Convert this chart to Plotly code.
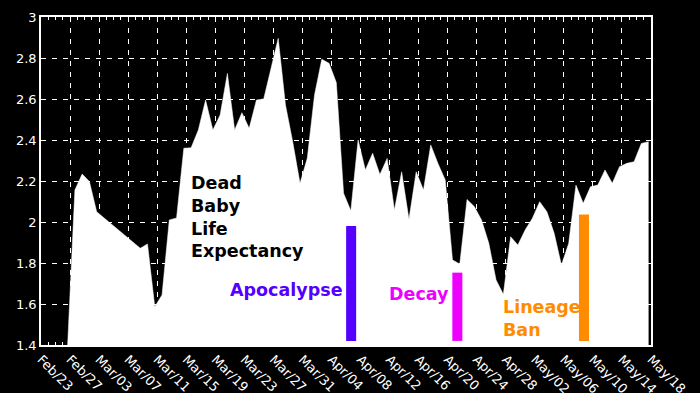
import plotly.graph_objects as go
import pandas as pd

# Daily readings (first reading on Feb 26, late afternoon)
start_date = "2015-02-26 16:00"
life_expectancy = [
    1.40, 2.156, 2.234, 2.197, 2.05, 2.02, 1.99, 1.96, 1.93, 1.90,
    1.872, 1.893, 1.587, 1.644, 2.01, 2.02, 2.36, 2.362, 2.449, 2.595,
    2.449, 2.522, 2.725, 2.449, 2.533, 2.457, 2.595, 2.60, 2.75, 2.896,
    2.571, 2.39, 2.189, 2.311, 2.62, 2.794, 2.774, 2.68, 2.14, 2.055,
    2.40, 2.254, 2.335, 2.232, 2.31, 2.059, 2.245, 2.013, 2.245, 2.156,
    2.376, 2.285, 2.205, 1.815, 1.795, 2.11, 2.075, 2.01, 1.896, 1.717,
    1.647, 1.928, 1.888, 1.961, 2.018, 2.099, 2.05, 1.945, 1.79, 1.896,
    2.18, 2.091, 2.172, 2.18, 2.254, 2.189, 2.27, 2.286, 2.294, 2.383,
    2.392,
]
dates = pd.date_range(start_date, periods=len(life_expectancy), freq="D")

# Event markers
event_names = ["Apocalypse", "Decay", "Lineage<br>Ban"]
event_dates = ["2015-04-06 17:00", "2015-04-21 08:00", "2015-05-08 18:30"]
event_tops = [1.98, 1.753, 2.036]
event_base = 1.42
event_colors = ["#5500ff", "#ee00ff", "#ff8c00"]
label_dates = ["2015-03-20 18:00", "2015-04-11 15:00", "2015-04-27 08:00"]
label_values = [1.668, 1.649, 1.529]
title_date = "2015-03-15 09:00"
title_value = 2.022

tick_dates = pd.date_range("2015-02-23", "2015-05-18", freq="4D")
tick_labels = [d.strftime("%b/%d") for d in tick_dates]
y_ticks = [1.4, 1.6, 1.8, 2.0, 2.2, 2.4, 2.6, 2.8, 3.0]
y_labels = ["1.4", "1.6", "1.8", "2", "2.2", "2.4", "2.6", "2.8", "3"]
y_range = [1.4, 3.0]

fig = go.Figure()
fig.add_trace(go.Scatter(
    x=dates, y=life_expectancy, mode="lines",
    line=dict(color="white", width=0.5),
    fill="tozeroy", fillcolor="white", hoverinfo="skip",
))
day_ms = 86400000
for name, d, top, col in zip(event_names, event_dates, event_tops, event_colors):
    fig.add_trace(go.Bar(
        x=[d], y=[top - event_base], base=[event_base], yaxis="y2",
        width=[1.38 * day_ms], marker=dict(color=col, line=dict(width=0)),
    ))

fig.add_annotation(
    x=title_date, y=title_value, xref="x", yref="y",
    text="<b>Dead<br>Baby<br>Life<br>Expectancy</b>", showarrow=False,
    xanchor="left", yanchor="middle", align="left",
    font=dict(family="DejaVu Sans", size=17.5, color="black"),
)
for name, d, v, col in zip(event_names, label_dates, label_values, event_colors):
    fig.add_annotation(
        x=d, y=v, xref="x", yref="y", text="<b>" + name + "</b>",
        showarrow=False, xanchor="left", yanchor="middle", align="left",
        font=dict(family="DejaVu Sans", size=17.5, color=col),
    )

grid = dict(showgrid=True, gridcolor="white", gridwidth=1, griddash="5px,6px")
fig.update_layout(
    width=700, height=393,
    margin=dict(l=41, r=49, t=17, b=48),
    paper_bgcolor="black", plot_bgcolor="black",
    showlegend=False, barmode="overlay",
    font=dict(family="DejaVu Sans", size=13, color="white"),
    xaxis=dict(
        type="date", range=["2015-02-23", "2015-05-18"], automargin=False,
        tickmode="array", tickvals=tick_dates, ticktext=tick_labels,
        tickangle=45, ticks="inside", ticklen=5, tickcolor="white",
        showline=True, linecolor="white", linewidth=1.5, mirror="ticks",
        minor=dict(dtick=day_ms, ticks="inside", ticklen=3, tickcolor="white", showgrid=False),
        zeroline=False, layer="above traces", **grid,
    ),
    yaxis=dict(
        range=y_range, tickmode="array", tickvals=y_ticks, ticktext=y_labels,
        automargin=False, ticks="inside", ticklen=5, tickcolor="white",
        showline=True, linecolor="white", linewidth=1.5, mirror="ticks",
        zeroline=False, layer="above traces", **grid,
    ),
    yaxis2=dict(
        range=y_range, overlaying="y", visible=False, showgrid=False,
        automargin=False,
    ),
)
fig.write_html(
    "out.html",
    config={"displayModeBar": False},
    post_script="document.body.style.margin='0';document.body.style.background='black';",
)
